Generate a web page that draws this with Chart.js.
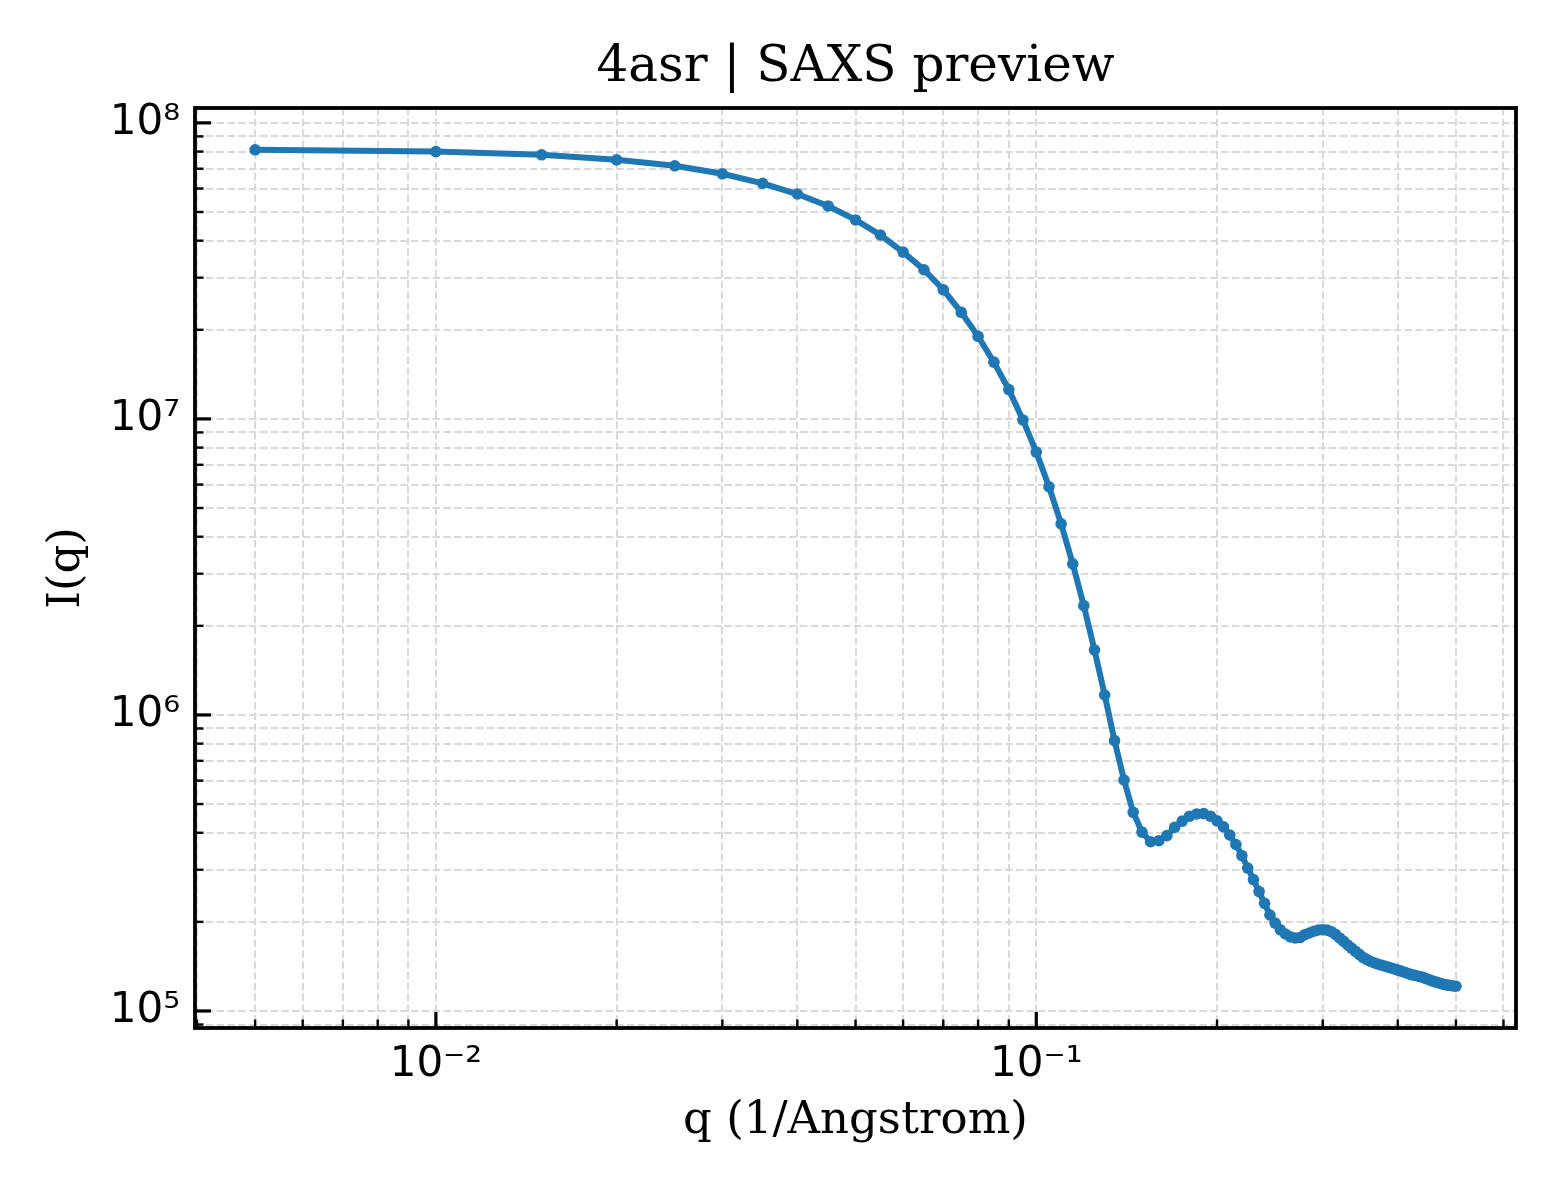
<!DOCTYPE html>
<html>
<head>
<meta charset="utf-8">
<title>4asr | SAXS preview</title>
<script src="https://cdn.jsdelivr.net/npm/chart.js@4.4.1/dist/chart.umd.min.js"></script>
<style>
  html, body { margin: 0; padding: 0; background: #fff; }
  #wrap { width: 1560px; height: 1200px; }
</style>
</head>
<body>
<div id="wrap"><canvas id="saxs" width="1560" height="1200"></canvas></div>
<script>
// q (1/Angstrom) sampled every 0.005
var qValues = [
  0.005, 0.010, 0.015, 0.020, 0.025, 0.030, 0.035, 0.040, 0.045, 0.050,
  0.055, 0.060, 0.065, 0.070, 0.075, 0.080, 0.085, 0.090, 0.095, 0.100,
  0.105, 0.110, 0.115, 0.120, 0.125, 0.130, 0.135, 0.140, 0.145, 0.150,
  0.155, 0.160, 0.165, 0.170, 0.175, 0.180, 0.185, 0.190, 0.195, 0.200,
  0.205, 0.210, 0.215, 0.220, 0.225, 0.230, 0.235, 0.240, 0.245, 0.250,
  0.255, 0.260, 0.265, 0.270, 0.275, 0.280, 0.285, 0.290, 0.295, 0.300,
  0.305, 0.310, 0.315, 0.320, 0.325, 0.330, 0.335, 0.340, 0.345, 0.350,
  0.355, 0.360, 0.365, 0.370, 0.375, 0.380, 0.385, 0.390, 0.395, 0.400,
  0.405, 0.410, 0.415, 0.420, 0.425, 0.430, 0.435, 0.440, 0.445, 0.450,
  0.455, 0.460, 0.465, 0.470, 0.475, 0.480, 0.485, 0.490, 0.495, 0.500
];

// I(q)
var intensity = [
  8.11e7, 8.00e7, 7.80e7, 7.50e7, 7.16e7, 6.73e7, 6.25e7, 5.75e7, 5.24e7, 4.70e7,
  4.18e7, 3.66e7, 3.19e7, 2.73e7, 2.29e7, 1.90e7, 1.555e7, 1.256e7, 9.92e6, 7.72e6,
  5.90e6, 4.42e6, 3.24e6, 2.34e6, 1.658e6, 1.168e6, 8.19e5, 6.03e5, 4.69e5, 4.02e5,
  3.73e5, 3.76e5, 3.91e5, 4.17e5, 4.38e5, 4.55e5, 4.63e5, 4.64e5, 4.55e5, 4.39e5,
  4.19e5, 3.93e5, 3.65e5, 3.35e5, 3.04e5, 2.78e5, 2.53e5, 2.31e5, 2.11e5, 1.98e5,
  1.88e5, 1.82e5, 1.78e5, 1.765e5, 1.77e5, 1.81e5, 1.834e5, 1.859e5, 1.877e5, 1.882e5,
  1.875e5, 1.853e5, 1.815e5, 1.765e5, 1.718e5, 1.671e5, 1.630e5, 1.591e5, 1.553e5, 1.518e5,
  1.493e5, 1.472e5, 1.456e5, 1.441e5, 1.430e5, 1.419e5, 1.408e5, 1.397e5, 1.386e5, 1.375e5,
  1.364e5, 1.352e5, 1.341e5, 1.330e5, 1.322e5, 1.315e5, 1.308e5, 1.300e5, 1.289e5, 1.278e5,
  1.267e5, 1.256e5, 1.249e5, 1.241e5, 1.234e5, 1.227e5, 1.223e5, 1.219e5, 1.215e5, 1.212e5
];

// labelled (major) ticks
var xMajorTicks = [0.01, 0.1];
var xTickLabels = ["10\u207B\u00B2", "10\u207B\u00B9"];
var yMajorTicks = [1e5, 1e6, 1e7, 1e8];
var yTickLabels = ["10\u2075", "10\u2076", "10\u2077", "10\u2078"];

var xLimits = [0.00397, 0.6295];
var yLimits = [8.76e4, 1.1226e8];

var titleText = "4asr | SAXS preview";
var xTitle = "q (1/Angstrom)";
var yTitle = "I(q)";

var lineColor = "#1f77b4";
var gridColor = "#d9d9d9";
var serif = "'DejaVu Serif', serif";
var sans = "'DejaVu Sans', sans-serif";

function isMajorVal(majors, v) {
  for (var i = 0; i < majors.length; i++) {
    if (Math.abs(v / majors[i] - 1) < 1e-6) return i;
  }
  return -1;
}

// log ticks like matplotlib: decades plus 2..9 minors, no 1.5x ticks
function logTicks(majors) {
  return function(scale) {
    var min = scale.min, max = scale.max, out = [];
    var e0 = Math.floor(Math.log10(min)), e1 = Math.ceil(Math.log10(max));
    for (var e = e0; e <= e1; e++) {
      var d = Math.pow(10, e);
      for (var m = 1; m <= 9; m++) {
        var v = +(m * d).toPrecision(6);
        if (v <= min || v >= max) continue;
        out.push({ value: v, major: isMajorVal(majors, v) >= 0 });
      }
    }
    scale.ticks = out;
  };
}

function tickLabel(majors, labels) {
  return function(value) {
    var i = isMajorVal(majors, value);
    return i >= 0 ? labels[i] : "";
  };
}

// matplotlib-ish frame and inward tick marks
var frameTicks = {
  id: "frameTicks",
  afterDatasetsDraw: function(chart) {
    var ctx = chart.ctx, a = chart.chartArea;
    var xs = chart.scales.x, ys = chart.scales.y;
    ctx.save();
    ctx.strokeStyle = "#000";
    xs.ticks.forEach(function(t) {
      var px = xs.getPixelForValue(t.value);
      ctx.lineWidth = t.major ? 3.2 : 2.4;
      ctx.beginPath();
      ctx.moveTo(px, a.bottom);
      ctx.lineTo(px, a.bottom - (t.major ? 16 : 8.5));
      ctx.stroke();
    });
    ys.ticks.forEach(function(t) {
      var py = ys.getPixelForValue(t.value);
      ctx.lineWidth = t.major ? 3.2 : 2.4;
      ctx.beginPath();
      ctx.moveTo(a.left, py);
      ctx.lineTo(a.left + (t.major ? 16 : 8.5), py);
      ctx.stroke();
    });
    ctx.lineWidth = 3.8;
    ctx.strokeRect(a.left, a.top, a.right - a.left, a.bottom - a.top);
    ctx.restore();
  }
};

var points = qValues.map(function(q, i) { return { x: q, y: intensity[i] }; });

new Chart(document.getElementById("saxs").getContext("2d"), {
  type: "line",
  data: {
    datasets: [{
      label: "I(q)",
      data: points,
      borderColor: lineColor,
      backgroundColor: lineColor,
      borderWidth: 6,
      pointRadius: 5.8,
      pointBorderWidth: 0,
      pointBackgroundColor: lineColor,
      tension: 0,
      fill: false
    }]
  },
  options: {
    responsive: false,
    devicePixelRatio: 1,
    animation: false,
    layout: { padding: { left: 0, top: 0, right: 44, bottom: 0 } },
    plugins: {
      legend: { display: false },
      tooltip: { enabled: false },
      title: {
        display: true,
        fullSize: false,
        text: titleText,
        color: "#000",
        font: { family: serif, size: 50, weight: "normal", lineHeight: 1.2 },
        padding: { top: 38, bottom: 10 }
      }
    },
    scales: {
      x: {
        type: "logarithmic",
        position: "bottom",
        min: xLimits[0],
        max: xLimits[1],
        afterBuildTicks: logTicks(xMajorTicks),
        afterFit: function(s) { s.height = 172; },
        grid: { color: gridColor, lineWidth: 2, drawTicks: false },
        border: { display: false, dash: [7.5, 3.3] },
        ticks: {
          autoSkip: false,
          maxRotation: 0,
          color: "#000",
          padding: 12,
          font: { family: sans, size: 42 },
          callback: tickLabel(xMajorTicks, xTickLabels)
        },
        title: {
          display: true,
          text: xTitle,
          color: "#000",
          font: { family: serif, size: 45, lineHeight: 1.2 },
          padding: { top: 0, bottom: 52 }
        }
      },
      y: {
        type: "logarithmic",
        position: "left",
        min: yLimits[0],
        max: yLimits[1],
        afterBuildTicks: logTicks(yMajorTicks),
        afterFit: function(s) { s.width = 195; },
        grid: { color: gridColor, lineWidth: 2, drawTicks: false },
        border: { display: false, dash: [7.5, 3.3] },
        ticks: {
          autoSkip: false,
          color: "#000",
          padding: 15,
          font: { family: sans, size: 42 },
          callback: tickLabel(yMajorTicks, yTickLabels)
        },
        title: {
          display: true,
          text: yTitle,
          color: "#000",
          font: { family: serif, size: 45, lineHeight: 1.2 },
          padding: { top: 40, bottom: 0 }
        }
      }
    }
  },
  plugins: [frameTicks]
});
</script>
</body>
</html>
